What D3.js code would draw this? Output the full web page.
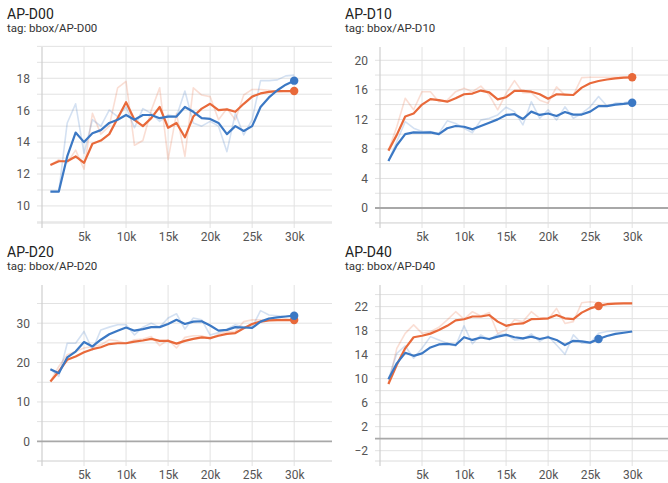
<!DOCTYPE html>
<html>
<head>
<meta charset="utf-8">
<script src="https://cdn.jsdelivr.net/npm/d3@7"></script>
<style>
  body { margin: 0; background: #fff; }
  svg text { font-family: Roboto, "Noto Sans", sans-serif; }
</style>
</head>
<body>
<svg id="chart" width="668" height="483"></svg>
<script>
// Training steps (x values)
const steps = [1000, 2000, 3000, 4000, 5000, 6000, 7000, 8000, 9000, 10000,
  11000, 12000, 13000, 14000, 15000, 16000, 17000, 18000, 19000, 20000,
  21000, 22000, 23000, 24000, 25000, 26000, 27000, 28000, 29000, 30000];
const xTickValues = [5000, 10000, 15000, 20000, 25000, 30000];

// AP-D00
const d00BlueSmooth = [10.9,10.9,13.1,14.6,14.0,14.55,14.75,15.2,15.4,15.7,15.4,15.7,15.7,15.5,15.6,15.6,16.2,15.9,15.5,15.45,15.2,14.5,15.0,14.7,15.0,16.2,16.8,17.25,17.6,17.85];
const d00BlueRaw = [10.9,10.9,15.2,16.4,13.3,15.4,15.0,16.0,15.6,16.2,14.9,16.1,15.8,15.3,15.7,15.6,17.2,15.2,15.0,15.3,15.0,13.4,15.8,14.45,15.4,17.85,17.85,17.9,18.15,18.2];
const d00OrangeSmooth = [12.57,12.8,12.8,13.1,12.7,13.9,14.1,14.5,15.5,16.5,15.4,15.0,15.5,16.2,14.9,15.2,14.3,15.6,16.1,16.4,16.0,16.05,15.9,16.4,16.85,17.05,17.15,17.2,17.2,17.2];
const d00OrangeRaw = [12.57,12.9,12.7,13.5,12.3,15.8,14.5,15.0,17.4,17.8,13.8,14.1,16.0,17.4,12.9,15.8,13.1,17.4,16.95,16.85,15.4,16.1,15.4,16.95,17.3,17.3,17.25,17.15,17.2,17.2];
const d00YTicks = [10, 12, 14, 16, 18];
const d00YGrid = [9, 10, 11, 12, 13, 14, 15, 16, 17, 18, 19, 20];

// AP-D10
const d10BlueSmooth = [6.37,8.5,10.0,10.25,10.2,10.25,10.0,10.8,11.1,11.0,10.65,11.1,11.55,12.0,12.6,12.7,12.05,13.05,12.6,12.8,12.45,13.0,12.65,12.65,13.05,13.8,13.8,14.0,14.1,14.25];
const d10BlueRaw = [6.37,9.0,11.7,10.8,10.35,10.35,10.1,11.8,11.45,10.8,10.2,11.9,12.15,12.6,13.65,13.05,11.25,14.4,12.15,13.3,11.9,13.7,12.15,12.8,13.7,15.1,13.8,14.2,14.25,14.5];
const d10OrangeSmooth = [7.77,9.9,12.4,12.8,14.0,14.75,14.6,14.4,14.85,15.4,15.5,15.9,15.65,14.7,15.0,15.85,15.85,15.75,15.4,14.8,15.4,15.35,15.3,16.3,16.9,17.2,17.4,17.55,17.65,17.7];
const d10OrangeRaw = [7.77,11.0,14.85,13.3,15.75,15.75,14.4,14.6,15.75,16.2,15.75,16.5,15.3,13.3,15.5,17.25,15.6,15.6,14.6,14.2,16.4,15.3,15.3,17.65,17.7,17.7,17.7,17.7,17.7,17.7];
const d10YTicks = [0, 4, 8, 12, 16, 20];
const d10YGrid = [-2, 2, 4, 6, 8, 10, 12, 14, 16, 18, 20];

// AP-D20
const d20BlueSmooth = [18.3,17.3,21.3,22.8,25.2,24.1,25.8,27.2,28.1,28.9,28.1,28.5,29.0,29.0,29.8,30.85,29.8,30.4,30.5,29.4,28.1,28.3,29.0,28.9,28.8,30.4,31.2,31.5,31.7,31.9];
const d20BlueRaw = [18.3,16.5,24.9,24.9,27.9,23.2,28.3,29.0,29.6,29.6,27.0,29.0,30.0,29.0,31.3,32.4,28.5,31.3,30.85,27.0,27.6,28.5,29.6,29.0,29.0,33.2,32.1,31.9,31.7,32.1];
const d20OrangeSmooth = [15.2,17.75,20.7,21.55,22.6,23.4,23.9,24.7,24.9,24.9,25.3,25.6,26.0,25.5,25.5,24.8,25.5,26.0,26.4,26.2,26.8,27.3,27.5,28.7,29.8,30.4,30.7,30.8,30.85,30.8];
const d20OrangeRaw = [15.2,19.0,22.0,22.8,23.7,24.1,24.5,25.8,25.5,24.9,25.8,26.0,26.6,24.3,25.8,23.7,26.4,26.8,26.8,26.0,27.2,27.9,27.9,30.4,30.85,30.85,30.85,30.85,30.85,30.85];
const d20YTicks = [0, 10, 20, 30];
const d20YGrid = [-5, 5, 10, 15, 20, 25, 30, 35];

// AP-D40
const d40BlueSmooth = [9.9,12.55,14.3,13.8,14.2,15.2,15.7,15.8,15.6,16.9,16.45,16.85,16.6,17.0,17.3,16.9,16.7,17.0,16.6,16.9,16.45,15.6,16.3,16.2,16.0,16.6,17.1,17.45,17.65,17.85];
const d40BlueRaw = [9.9,14.2,15.45,13.4,15.05,17.0,16.45,15.9,15.45,18.8,15.8,17.3,16.45,17.4,17.4,16.45,16.55,17.45,16.2,17.1,15.6,14.05,17.3,15.9,15.9,17.55,17.85,17.95,17.95,17.85];
const d40OrangeSmooth = [9.1,12.3,15.05,16.9,17.15,17.5,18.1,18.8,19.7,19.9,20.35,20.35,20.6,19.5,18.8,19.1,19.2,19.9,19.95,20.05,20.6,20.05,19.9,21.0,21.7,22.1,22.4,22.5,22.55,22.55];
const d40OrangeRaw = [9.1,15.05,17.55,18.95,17.55,17.8,18.55,19.8,21.15,19.9,21.15,20.45,21.0,17.55,18.1,19.8,19.5,21.15,20.05,19.9,21.7,19.2,19.5,22.65,22.8,22.65,22.55,22.55,22.55,22.55];
const d40YTicks = [-2, 2, 6, 10, 14, 18, 22];
const d40YGrid = [-2, 2, 4, 6, 8, 10, 12, 14, 16, 18, 20, 22, 24];

const BLUE = "#3b78c4";
const ORANGE = "#e8693a";

const panels = [
  { title: "AP-D00", tag: "tag: bbox/AP-D00", ox: 0, oy: 0, domain: [8.93, 19.96],
    yTicks: d00YTicks, yGrid: d00YGrid, zero: false, markStep: 30000,
    blue: d00BlueSmooth, blueRaw: d00BlueRaw, orange: d00OrangeSmooth, orangeRaw: d00OrangeRaw },
  { title: "AP-D10", tag: "tag: bbox/AP-D10", ox: 338, oy: 0, domain: [-2.03, 21.8],
    yTicks: d10YTicks, yGrid: d10YGrid, zero: true, markStep: 30000,
    blue: d10BlueSmooth, blueRaw: d10BlueRaw, orange: d10OrangeSmooth, orangeRaw: d10OrangeRaw },
  { title: "AP-D20", tag: "tag: bbox/AP-D20", ox: 0, oy: 238, domain: [-5, 39.7],
    yTicks: d20YTicks, yGrid: d20YGrid, zero: true, markStep: 30000,
    blue: d20BlueSmooth, blueRaw: d20BlueRaw, orange: d20OrangeSmooth, orangeRaw: d20OrangeRaw },
  { title: "AP-D40", tag: "tag: bbox/AP-D40", ox: 338, oy: 238, domain: [-3.72, 25.6],
    yTicks: d40YTicks, yGrid: d40YGrid, zero: true, markStep: 26000,
    blue: d40BlueSmooth, blueRaw: d40BlueRaw, orange: d40OrangeSmooth, orangeRaw: d40OrangeRaw }
];

const svg = d3.select("#chart");
const plotL = 42, plotR = 332, plotT = 47, plotB = 223;

panels.forEach(p => {
  const g = svg.append("g").attr("transform", `translate(${p.ox},${p.oy})`);

  g.append("text").attr("x", 7).attr("y", 19)
    .attr("font-size", 14).attr("fill", "#212121").text(p.title);
  g.append("text").attr("x", 7).attr("y", 31.5)
    .attr("font-size", 11.5).attr("fill", "#333").text(p.tag);

  const x = d3.scaleLinear().domain([0, 34500]).range([plotL, plotR]);
  const y = d3.scaleLinear().domain(p.domain).range([plotB, plotT]);

  // horizontal grid
  g.append("g").selectAll("line").data(p.yGrid).join("line")
    .attr("x1", plotL - 5).attr("x2", plotR)
    .attr("y1", d => y(d)).attr("y2", d => y(d))
    .attr("stroke", "#e2e2e2").attr("stroke-width", 1);
  // vertical grid
  g.append("g").selectAll("line").data(xTickValues).join("line")
    .attr("x1", d => x(d)).attr("x2", d => x(d))
    .attr("y1", plotT).attr("y2", plotB + 5)
    .attr("stroke", "#e2e2e2").attr("stroke-width", 1);
  // bottom edge
  g.append("line").attr("x1", plotL - 5).attr("x2", plotR)
    .attr("y1", plotB).attr("y2", plotB)
    .attr("stroke", "#dcdcdc");
  // y axis line
  g.append("line").attr("x1", plotL).attr("x2", plotL)
    .attr("y1", plotT).attr("y2", plotB + 5)
    .attr("stroke", "#cfcfcf").attr("stroke-width", 1.2);
  // zero line
  if (p.zero) {
    g.append("line").attr("x1", plotL - 5).attr("x2", plotR)
      .attr("y1", y(0)).attr("y2", y(0))
      .attr("stroke", "#a8a8a8").attr("stroke-width", 1.8);
  }

  // axes (labels only)
  const ya = g.append("g").attr("transform", `translate(${plotL - 9},0)`)
    .call(d3.axisLeft(y).tickValues(p.yTicks).tickSize(0).tickFormat(d3.format("d")));
  const xa = g.append("g").attr("transform", `translate(0,${plotB + 6})`)
    .call(d3.axisBottom(x).tickValues(xTickValues).tickSize(0).tickFormat(d => d / 1000 + "k"));
  [ya, xa].forEach(a => {
    a.select(".domain").remove();
    a.selectAll("text").attr("font-size", 12).attr("fill", "#555")
      .attr("font-family", "Roboto, 'Noto Sans', sans-serif");
  });

  const line = d3.line().x((d, i) => x(steps[i])).y(d => y(d));

  // raw (faint) series
  g.append("path").datum(p.orangeRaw).attr("d", line)
    .attr("fill", "none").attr("stroke", ORANGE).attr("stroke-opacity", 0.22)
    .attr("stroke-width", 1.6).attr("stroke-linejoin", "round");
  g.append("path").datum(p.blueRaw).attr("d", line)
    .attr("fill", "none").attr("stroke", BLUE).attr("stroke-opacity", 0.22)
    .attr("stroke-width", 1.6).attr("stroke-linejoin", "round");

  // smoothed series
  g.append("path").datum(p.orange).attr("d", line)
    .attr("fill", "none").attr("stroke", ORANGE)
    .attr("stroke-width", 2.2).attr("stroke-linejoin", "round");
  g.append("path").datum(p.blue).attr("d", line)
    .attr("fill", "none").attr("stroke", BLUE)
    .attr("stroke-width", 2.2).attr("stroke-linejoin", "round");

  // highlighted points
  const mi = steps.indexOf(p.markStep);
  g.append("circle").attr("cx", x(steps[mi])).attr("cy", y(p.orange[mi]))
    .attr("r", 4.2).attr("fill", ORANGE);
  g.append("circle").attr("cx", x(steps[mi])).attr("cy", y(p.blue[mi]))
    .attr("r", 4.2).attr("fill", BLUE);
});
</script>
</body>
</html>
